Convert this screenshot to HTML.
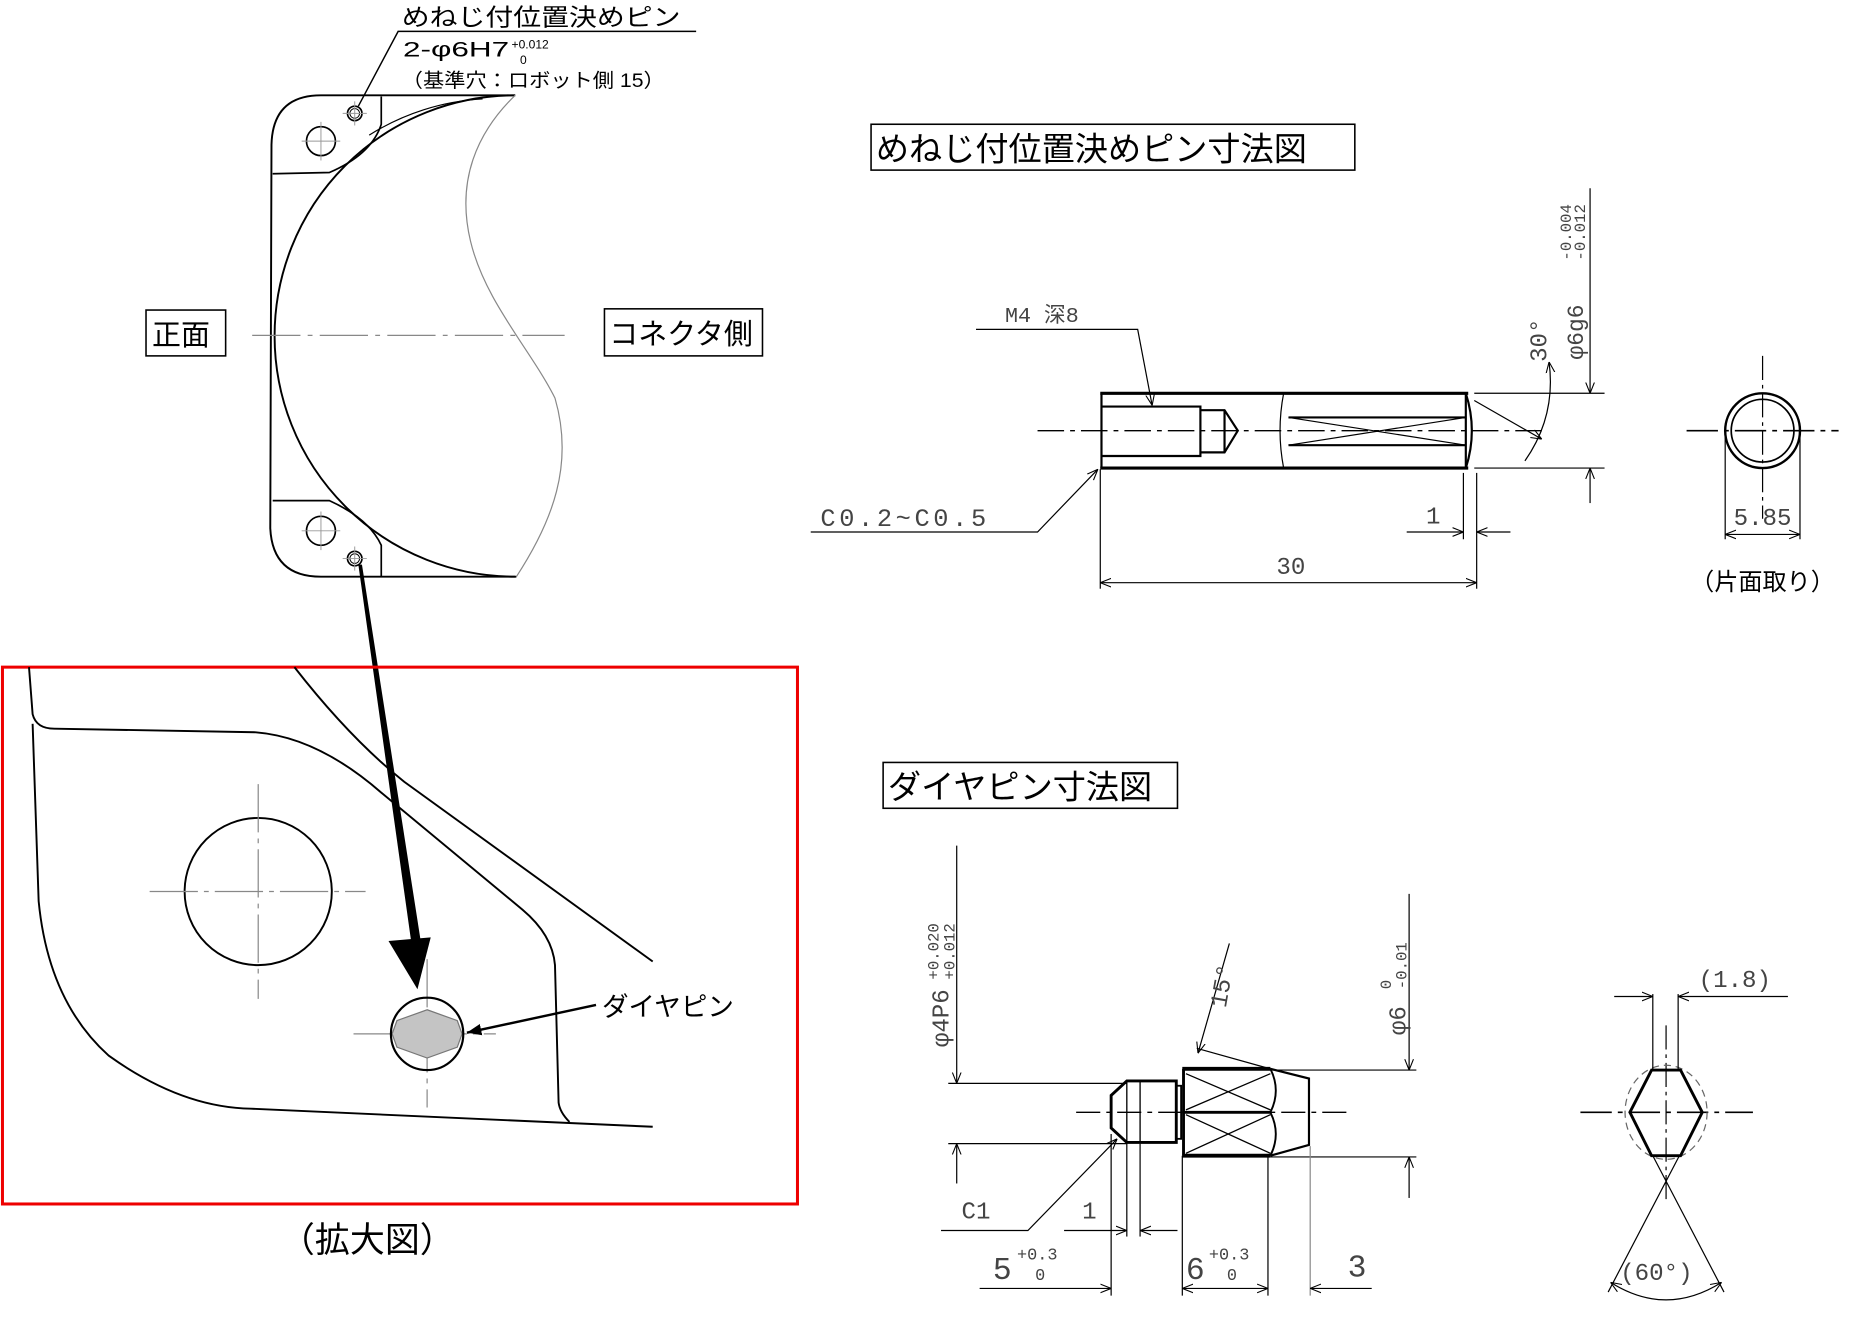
<!DOCTYPE html>
<html><head><meta charset="utf-8"><style>
html,body{margin:0;padding:0;background:#fff;}
svg{display:block;}
.j{font-family:"Liberation Sans","Noto Sans CJK JP",sans-serif;fill:#000;}
.d{font-family:"Liberation Mono","DejaVu Sans Mono",monospace;fill:#444;}
</style></head><body>
<svg width="1870" height="1321" viewBox="0 0 1550 1095" xmlns="http://www.w3.org/2000/svg">
<defs>
<marker id="ar" viewBox="0 0 10 10" refX="10" refY="5" markerWidth="9" markerHeight="9" orient="auto-start-reverse" markerUnits="userSpaceOnUse"><path d="M0,1 L10,5 L0,9" fill="none" stroke="#000" stroke-width="1"/></marker>
<marker id="af" viewBox="0 0 10 10" refX="10" refY="5" markerWidth="12" markerHeight="12" orient="auto" markerUnits="userSpaceOnUse"><path d="M0,1 L10,5 L0,9 z" fill="#000"/></marker>
</defs>
<g fill="none" stroke="#000">
<path d="M427,79 L266,79 Q226,79 225,120 L224,438 Q226,478 266,478 L428,478" stroke-width="1.6"/>
<path d="M316,80 L316,103 Q308,128 273,143 L226,144" stroke-width="1.4"/>
<path d="M226,415 L273,415 Q306,430 316,452 L316,478" stroke-width="1.4"/>
<path d="M427,79 A199,199 0 0 0 427,478" stroke-width="1.6"/>
<path d="M306,112 A196,196 0 0 1 400,82" stroke-width="1"/>
<path d="M427,79 C395,110 378,150 390,200 C402,250 440,290 460,330 C476,385 458,432 428,478" stroke="#888" stroke-width="1"/>
<line x1="209" y1="278" x2="468" y2="278" stroke="#888" stroke-width="1" stroke-dasharray="40,6,4,6"/>
<g stroke-width="1.4">
<circle cx="266" cy="117" r="12"/><circle cx="294" cy="94" r="6"/><circle cx="294" cy="94" r="4" stroke-width="0.8"/>
<circle cx="266" cy="440" r="12"/><circle cx="294" cy="463" r="6"/><circle cx="294" cy="463" r="4" stroke-width="0.8"/>
</g>
<g stroke="#999" stroke-width="0.8">
<line x1="250" y1="117" x2="282" y2="117"/><line x1="266" y1="101" x2="266" y2="133"/>
<line x1="284" y1="94" x2="304" y2="94"/><line x1="294" y1="84" x2="294" y2="104"/>
<line x1="250" y1="440" x2="282" y2="440"/><line x1="266" y1="424" x2="266" y2="456"/>
<line x1="284" y1="463" x2="304" y2="463"/><line x1="294" y1="453" x2="294" y2="473"/>
</g>
<polyline points="577,26 330,26 297,88" stroke-width="1.2"/>
<rect x="121" y="257" width="66" height="38" stroke-width="1.3"/>
<rect x="501" y="256" width="131" height="39" stroke-width="1.3"/>
<polygon points="297,468 300,468 349,782 341,782" fill="#000" stroke="none"/>
<polygon points="322,780 357,777 346,820" fill="#000" stroke="none"/>
<rect x="2" y="553" width="659" height="445" stroke="#e00" stroke-width="2.5"/>
<path d="M24,553 L27,592 Q30,604 45,604 L212,607 C250,610 285,630 316,657 L433,754 Q458,775 460,800 L463,914 Q464,922 472,930" stroke-width="1.6"/>
<path d="M27,600 L32,747 Q40,830 90,875 Q150,918 208,919 L541,934" stroke-width="1.6"/>
<path d="M244,553 Q290,612 335,648 L541,797" stroke-width="1.6"/>
<circle cx="214" cy="739" r="61" stroke-width="1.6"/>
<g stroke="#888" stroke-width="1"><line x1="124" y1="739" x2="303" y2="739" stroke-dasharray="40,5,4,5"/><line x1="214" y1="650" x2="214" y2="828" stroke-dasharray="40,5,4,5"/>
<line x1="293" y1="857" x2="411" y2="857" stroke-dasharray="40,5,4,5"/><line x1="354" y1="795" x2="354" y2="918" stroke-dasharray="40,5,4,5"/></g>
<polygon points="354,837 379,846 383,857 379,868 354,877 329,868 325,857 329,846" fill="#c4c4c4" stroke="#777" stroke-width="1"/>
<circle cx="354" cy="857" r="30" stroke-width="1.8"/>
<line x1="494" y1="833" x2="387" y2="856" stroke-width="2" marker-end="url(#af)"/>
<rect x="722" y="103" width="401" height="38" stroke-width="1.3"/>
<g stroke-width="2.6"><line x1="912" y1="326" x2="1217" y2="326"/><line x1="912" y1="388" x2="1217" y2="388"/></g>
<g stroke-width="1.8"><line x1="913" y1="326" x2="913" y2="388"/><path d="M1215,326 Q1225,357 1215,388"/><line x1="1215" y1="326" x2="1215" y2="388"/>
<polyline points="913,337 995,337 995,378 913,378"/><polyline points="995,340 1015,340 1026,357 1015,375 995,375"/><line x1="1015" y1="340" x2="1015" y2="375"/>
<line x1="1068" y1="346" x2="1215" y2="346"/><line x1="1068" y1="369" x2="1215" y2="369"/></g>
<g stroke-width="1"><line x1="1068" y1="346" x2="1215" y2="369"/><line x1="1068" y1="369" x2="1215" y2="346"/><path d="M1064,326 Q1058,357 1064,388"/></g>
<line x1="860" y1="357" x2="1278" y2="357" stroke-width="1.2" stroke-dasharray="22,5,4,5"/>
<g stroke-width="1">
<line x1="1222" y1="326" x2="1330" y2="326"/><line x1="1222" y1="388" x2="1330" y2="388"/>
<line x1="1318" y1="156" x2="1318" y2="326" marker-end="url(#ar)"/><line x1="1318" y1="417" x2="1318" y2="388" marker-end="url(#ar)"/>
<line x1="1222" y1="332" x2="1278" y2="364" marker-end="url(#ar)"/>
<path d="M1284,300 Q1290,345 1264,382" marker-start="url(#ar)"/>
<polyline points="809,273 943,273 955,336" marker-end="url(#ar)"/>
<polyline points="672,441 860,441 910,389" marker-end="url(#ar)"/>
<line x1="912" y1="389" x2="912" y2="488"/><line x1="1224" y1="392" x2="1224" y2="488"/>
<line x1="912" y1="483" x2="1224" y2="483" marker-start="url(#ar)" marker-end="url(#ar)"/>
<line x1="1213" y1="392" x2="1213" y2="447"/>
<line x1="1166" y1="441" x2="1213" y2="441" marker-end="url(#ar)"/><line x1="1252" y1="441" x2="1224" y2="441" marker-end="url(#ar)"/>
<line x1="1398" y1="357" x2="1524" y2="357" stroke-width="1.4" stroke-dasharray="26,5,4,5"/>
<line x1="1461" y1="295" x2="1461" y2="430" stroke-dasharray="20,4,3,4"/>
<line x1="1430" y1="360" x2="1430" y2="447"/><line x1="1492" y1="360" x2="1492" y2="447"/>
<line x1="1430" y1="443" x2="1492" y2="443" marker-start="url(#ar)" marker-end="url(#ar)"/>
</g>
<circle cx="1461" cy="357" r="31" stroke-width="2"/><circle cx="1461" cy="357" r="26" stroke-width="1.4"/>
<rect x="732" y="632" width="244" height="38" stroke-width="1.3"/>
<g stroke-width="2.4">
<polygon points="934,896 975,896 975,947 934,947 921,935 921,908"/>
<rect x="975" y="900" width="4" height="44" stroke-width="1.5"/>
<line x1="980" y1="886" x2="1053" y2="886" stroke-width="3.2"/><line x1="980" y1="958" x2="1053" y2="958" stroke-width="3.2"/>
<line x1="981" y1="886" x2="981" y2="958"/><line x1="980" y1="922" x2="1053" y2="922"/>
<polyline points="1053,886 1085,894 1085,949 1053,958" stroke-width="1.8"/>
</g>
<g stroke-width="1.1">
<line x1="934" y1="896" x2="934" y2="947"/><line x1="945" y1="896" x2="945" y2="947"/>
<path d="M1053,886 Q1062,904 1053,922 Q1062,940 1053,958" stroke-width="1.6"/>
<line x1="983" y1="890" x2="1053" y2="920"/><line x1="983" y1="920" x2="1053" y2="890"/>
<line x1="983" y1="924" x2="1053" y2="956"/><line x1="983" y1="956" x2="1053" y2="924"/>
</g>
<line x1="892" y1="922" x2="1116" y2="922" stroke-width="1.2" stroke-dasharray="20,5,4,5"/>
<g stroke-width="1">
<line x1="786" y1="898" x2="934" y2="898"/><line x1="786" y1="948" x2="934" y2="948"/>
<line x1="793" y1="701" x2="793" y2="898" marker-end="url(#ar)"/><line x1="793" y1="981" x2="793" y2="948" marker-end="url(#ar)"/>
<line x1="1053" y1="887" x2="1174" y2="887"/><line x1="1053" y1="959" x2="1174" y2="959"/>
<line x1="1168" y1="741" x2="1168" y2="887" marker-end="url(#ar)"/><line x1="1168" y1="993" x2="1168" y2="959" marker-end="url(#ar)"/>
<line x1="1019" y1="782" x2="993" y2="873" marker-end="url(#ar)"/><line x1="992" y1="869" x2="1053" y2="886"/>
<polyline points="780,1020 852,1020 926,944" marker-end="url(#ar)"/>
<line x1="921" y1="940" x2="921" y2="1074"/><line x1="934" y1="948" x2="934" y2="1025"/><line x1="945" y1="948" x2="945" y2="1025"/>
<line x1="882" y1="1020" x2="934" y2="1020" marker-end="url(#ar)"/><line x1="976" y1="1020" x2="945" y2="1020" marker-end="url(#ar)"/>
<line x1="980" y1="958" x2="980" y2="1074"/><line x1="1051" y1="958" x2="1051" y2="1074"/><line x1="1086" y1="950" x2="1086" y2="1074" stroke="#888"/>
<line x1="812" y1="1068" x2="921" y2="1068" marker-end="url(#ar)"/>
<line x1="980" y1="1068" x2="1051" y2="1068" marker-start="url(#ar)" marker-end="url(#ar)"/>
<line x1="1137" y1="1068" x2="1086" y2="1068" marker-end="url(#ar)"/>
<line x1="1310" y1="922" x2="1453" y2="922" stroke-width="1.4" stroke-dasharray="26,5,4,5"/>
<line x1="1381" y1="850" x2="1381" y2="997" stroke-dasharray="20,4,3,4"/>
<ellipse cx="1381" cy="922" rx="34" ry="39" stroke="#666" stroke-dasharray="6,4"/>
<line x1="1370" y1="824" x2="1370" y2="887"/><line x1="1391" y1="824" x2="1391" y2="887"/>
<line x1="1338" y1="826" x2="1370" y2="826" marker-end="url(#ar)"/><line x1="1482" y1="826" x2="1391" y2="826" marker-end="url(#ar)"/>
<line x1="1370" y1="958" x2="1429" y2="1071"/><line x1="1392" y1="958" x2="1333" y2="1071"/>
<path d="M1335,1063 Q1381,1092 1427,1063" marker-start="url(#ar)" marker-end="url(#ar)"/>
</g>
<polygon points="1369,887 1393,887 1411,922 1393,958 1369,958 1351,922" stroke-width="2.4"/>
</g>
<text class="j" x="333" y="21" font-size="20" textLength="231" lengthAdjust="spacingAndGlyphs">めねじ付位置決めピン</text>
<text class="j" x="334" y="47" font-size="18" textLength="88" lengthAdjust="spacingAndGlyphs">2-φ6H7</text>
<text class="j" x="424" y="40" font-size="10">+0.012</text>
<text class="j" x="431" y="53" font-size="10">0</text>
<text class="j" x="333" y="72" font-size="16" textLength="218" lengthAdjust="spacingAndGlyphs">（基準穴：ロボット側 15）</text>
<text class="j" x="126" y="286" font-size="24">正面</text>
<text class="j" x="505" y="285" font-size="24">コネクタ側</text>
<text class="j" x="499" y="842" font-size="22">ダイヤピン</text>
<text class="j" x="232" y="1038" font-size="29">（拡大図）</text>
<text class="j" x="726" y="133" font-size="27.5">めねじ付位置決めピン寸法図</text>
<text class="j" x="736" y="662" font-size="27.5">ダイヤピン寸法図</text>
<text class="j" x="1401" y="489" font-size="20">（片面取り）</text>
<text class="d" x="833" y="267" font-size="18">M4 深8</text>
<text class="d" x="680" y="436" font-size="21" letter-spacing="3">C0.2~C0.5</text>
<text class="d" x="1058" y="476" font-size="20">30</text>
<text class="d" x="1182" y="434" font-size="20">1</text>
<text class="d" x="1437" y="435" font-size="20">5.85</text>
<text class="d" font-size="19" transform="translate(1312,298) rotate(-90)">φ6g6</text>
<text class="d" font-size="13" transform="translate(1302,216) rotate(-90)">-0.004</text>
<text class="d" font-size="13" transform="translate(1314,216) rotate(-90)">-0.012</text>
<text class="d" font-size="20" transform="translate(1282,300) rotate(-90)">30°</text>
<text class="d" font-size="20" transform="translate(786,868) rotate(-90)">φ4P6</text>
<text class="d" font-size="13" transform="translate(778,812) rotate(-90)">+0.020</text>
<text class="d" font-size="13" transform="translate(791,812) rotate(-90)">+0.012</text>
<text class="d" font-size="20" transform="translate(1165,858) rotate(-90)">φ6</text>
<text class="d" font-size="13" transform="translate(1153,820) rotate(-90)">0</text>
<text class="d" font-size="13" transform="translate(1166,820) rotate(-90)">-0.01</text>
<text class="d" font-size="20" transform="translate(1016,836) rotate(-80)">15°</text>
<text class="d" x="797" y="1010" font-size="20">C1</text>
<text class="d" x="897" y="1010" font-size="20">1</text>
<text class="d" x="823" y="1060" font-size="26">5</text>
<text class="d" x="843" y="1044" font-size="14">+0.3</text>
<text class="d" x="858" y="1061" font-size="14">0</text>
<text class="d" x="983" y="1060" font-size="26">6</text>
<text class="d" x="1002" y="1044" font-size="14">+0.3</text>
<text class="d" x="1017" y="1061" font-size="14">0</text>
<text class="d" x="1117" y="1058" font-size="26">3</text>
<text class="d" x="1408" y="818" font-size="20">(1.8)</text>
<text class="d" x="1343" y="1061" font-size="20">(60°)</text>
</svg>
</body></html>
